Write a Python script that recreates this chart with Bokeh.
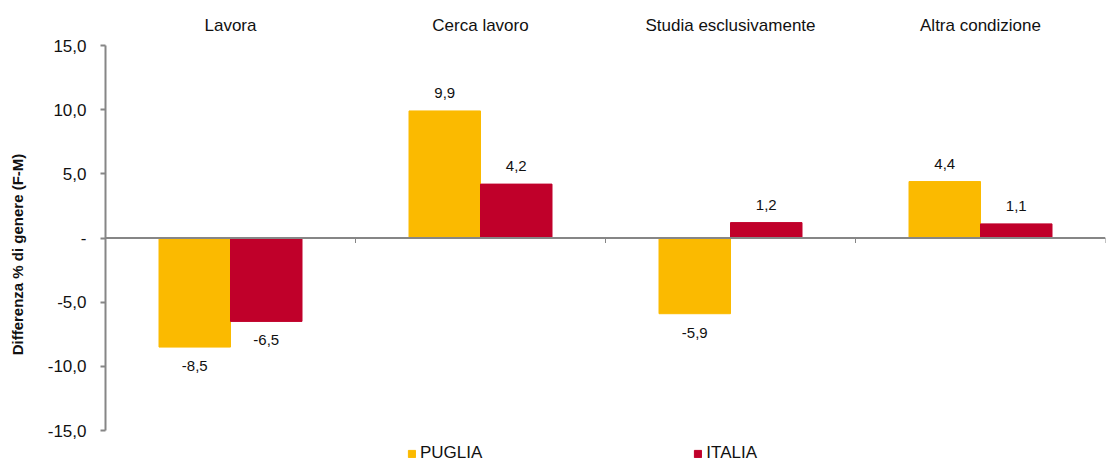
from bokeh.plotting import figure
from bokeh.models import (Range1d, LinearAxis, FixedTicker, CustomJSTickFormatter,
                          ColumnDataSource, Legend, LegendItem, Span)
from bokeh.core.properties import value
from bokeh.embed import file_html
from bokeh.resources import INLINE

categories = ["Lavora", "Cerca lavoro", "Studia esclusivamente", "Altra condizione"]
puglia = [-8.5, 9.9, -5.9, 4.4]
italia = [-6.5, 4.2, 1.2, 1.1]
series_names = ["PUGLIA", "ITALIA"]
y_ticks = [-15, -10, -5, 0, 5, 10, 15]
y_label = "Differenza % di genere (F-M)"

colors = ["#FBBA00", "#C0002A"]
FONT = "Liberation Sans"
AXIS_COLOR = "#868686"
TEXT_COLOR = "#111111"

# layout (pixels)
W, H = 1106, 463
TOP, LEFT = 45, 105
AXIS_BOTTOM = 430          # pixel row of the lowest y tick
px_per_unit = (AXIS_BOTTOM - TOP) / (y_ticks[-1] - y_ticks[0])
y_start = y_ticks[0] - (H - AXIS_BOTTOM) / px_per_unit   # room for legend below axis

n = len(categories)
bar_w = 0.286
offsets = [-bar_w / 2, bar_w / 2]

p = figure(width=W, height=H, output_backend="svg", toolbar_location=None,
           x_range=Range1d(0, n), y_range=Range1d(y_start, y_ticks[-1]),
           x_axis_location=None, y_axis_location="left",
           min_border_left=LEFT, min_border_right=1, min_border_top=TOP, min_border_bottom=0)
p.outline_line_color = None
p.xgrid.visible = False
p.ygrid.visible = False
p.background_fill_color = "white"
p.border_fill_color = "white"

# y axis
ya = p.yaxis[0]
ya.bounds = (y_ticks[0], y_ticks[-1])
ya.ticker = FixedTicker(ticks=y_ticks)
ya.formatter = CustomJSTickFormatter(code='return tick == 0 ? "-" : tick.toFixed(1).replace(".", ",");')
ya.axis_line_color = AXIS_COLOR
ya.axis_line_width = 2
ya.major_tick_line_color = AXIS_COLOR
ya.major_tick_line_width = 2
ya.major_tick_out = 5
ya.major_tick_in = 0
ya.minor_tick_line_color = None
ya.major_label_standoff = 14
ya.major_label_text_font = FONT
ya.major_label_text_font_size = "17px"
ya.major_label_text_color = TEXT_COLOR
ya.axis_label = y_label
ya.axis_label_text_font = FONT
ya.axis_label_text_font_size = "15px"
ya.axis_label_text_font_style = "bold"
ya.axis_label_text_color = TEXT_COLOR
ya.axis_label_standoff = 19

# category labels on top
top_ax = LinearAxis(ticker=FixedTicker(ticks=[i + 0.5 for i in range(n)]),
                    formatter=CustomJSTickFormatter(args=dict(cats=categories),
                                                    code="return cats[Math.floor(tick)];"),
                    axis_line_color=None, major_tick_line_color=None, minor_tick_line_color=None,
                    major_label_standoff=5, major_label_text_font=FONT,
                    major_label_text_font_size="17px", major_label_text_color=TEXT_COLOR)
p.add_layout(top_ax, "above")

# zero line with category boundary ticks
p.add_layout(Span(location=0, dimension="width", line_color=AXIS_COLOR, line_width=2))
bounds = list(range(n + 1))
tick_len = 5 / px_per_unit
p.segment(x0=bounds, y0=[0] * len(bounds), x1=bounds, y1=[-tick_len] * len(bounds),
          line_color=AXIS_COLOR, line_width=1)

renderers = []
label_x, label_y, label_txt, label_base, label_off = [], [], [], [], []
for s, vals in enumerate([puglia, italia]):
    xs = [i + 0.5 + offsets[s] for i in range(n)]
    src = ColumnDataSource(dict(x=xs, top=vals))
    r = p.vbar(x="x", top="top", bottom=0, width=bar_w, source=src,
               fill_color=colors[s], line_color=colors[s], line_width=1)
    renderers.append(r)
    for x, v in zip(xs, vals):
        label_x.append(x)
        label_y.append(v)
        label_txt.append(f"{v:.1f}".replace(".", ","))
        label_base.append("bottom" if v >= 0 else "top")
        label_off.append(-13 if v >= 0 else 14)

lsrc = ColumnDataSource(dict(x=label_x, y=label_y, t=label_txt, b=label_base, o=label_off))
p.text(x="x", y="y", text="t", source=lsrc, text_align="center", text_baseline="b",
       y_offset="o", text_font=value(FONT), text_font_size="15px", text_color=TEXT_COLOR)

legend = Legend(items=[LegendItem(label=series_names[i], renderers=[renderers[i]]) for i in range(2)],
                orientation="horizontal", location=(302, 0), glyph_width=9, glyph_height=9,
                label_standoff=4, spacing=211, padding=0, margin=0, label_height=13,
                border_line_color=None, background_fill_alpha=0,
                label_text_font=FONT, label_text_font_size="17px", label_text_color=TEXT_COLOR)
p.add_layout(legend)

open("out.html", "w").write(file_html(p, INLINE))
